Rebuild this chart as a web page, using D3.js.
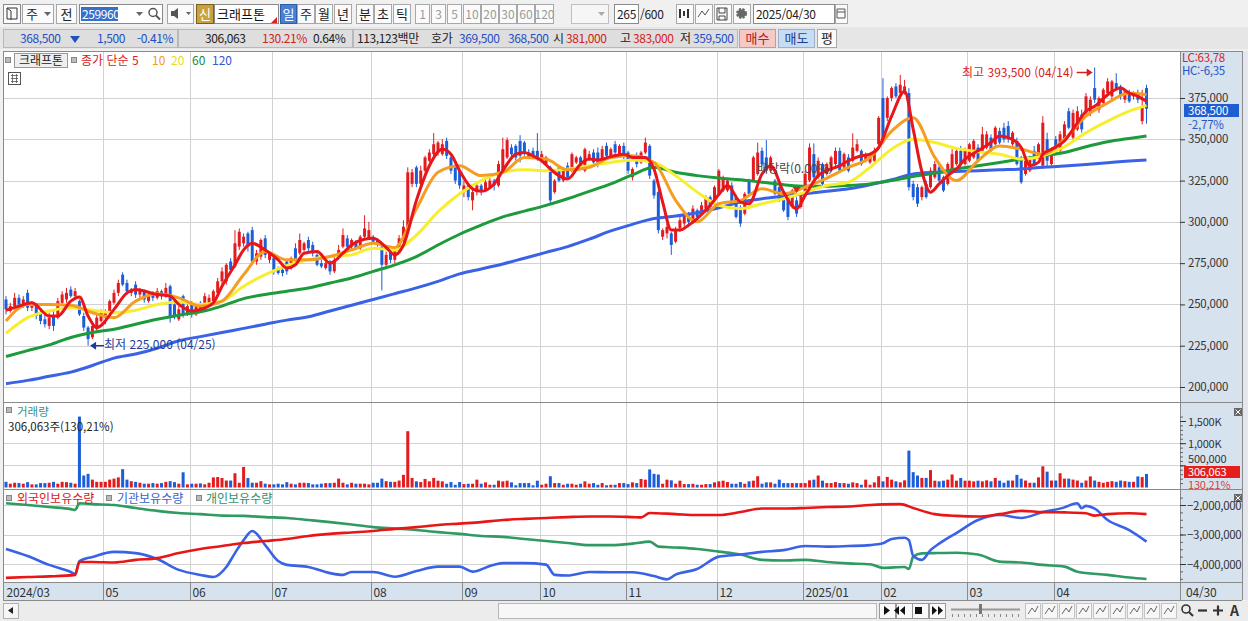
<!DOCTYPE html>
<html lang="ko">
<head>
<meta charset="utf-8">
<title>크래프톤 일봉</title>
<script src="https://cdn.jsdelivr.net/npm/d3@7"></script>
<style>
  html, body { margin: 0; padding: 0; background: #f0f0f0; overflow: hidden; }
  svg { display: block; }
  text { font-family: "Noto Sans CJK KR", "Noto Sans", sans-serif; }
</style>
</head>
<body>
<svg id="chart" width="1248" height="621"></svg>
<script>
// ---------- data : prices in thousand won, one entry per trading day ----------
const monthLabels = ["2024/03", "05", "06", "07", "08", "09", "10", "11", "12", "2025/01", "02", "03", "04"];
const monthStart  = [0, 23, 43, 62, 85, 106, 124, 144, 165, 185, 203, 223, 243];

const openK = [
  253,246,249,254,250,257,248,249,245,241,237,243,242,251,253,259,255,252,243,236,230,235,240,
  242,245,251,257,268,263,257,262,256,258,252,257,254,258,255,261,250,241,255,244,
  250,244,251,247,251,252,257,264,264,276,273,285,287,293,295,276,279,290,277,
  278,272,271,276,272,284,281,283,289,286,280,275,272,276,270,279,285,290,285,288,284,291,290,
  291,289,285,274,284,277,283,289,297,323,333,323,331,337,341,342,341,349,339,333,331,
  318,322,313,318,322,319,321,325,322,331,339,345,346,349,348,342,343,343,
  338,335,333,318,333,325,334,331,336,339,331,338,342,342,338,346,339,347,341,346,
  342,327,340,336,342,346,325,318,291,293,293,288,296,299,305,300,307,305,308,315,313,
  317,319,319,322,315,309,305,325,325,329,343,339,331,325,321,317,315,309,313,309,
  317,325,341,327,335,329,331,335,343,333,339,337,343,343,337,336,337,347,
  375,363,375,382,378,378,378,323,321,315,323,321,327,333,327,323,331,335,343,335,
  337,339,345,343,345,351,347,355,357,358,347,349,339,329,331,343,339,334,350,335,
  350,343,350,367,351,356,365,366,366,381,368,372,378,376,384,382,374,378,376,378,361,381
];
const highK = [
  255,251,257,256,255,259,252,250,247,244,245,246,254,258,260,261,260,253,245,237,239,245,247,
  247,253,259,265,269.5,265,260,264,260,259,258,258,260,259,263,262,251,249,256,251,
  252,251,252,257,256,259,266,272.5,275,278,295,296,293,294,297,283,290,292,282,
  279,273,273,277,279,287,293,288,291,288,281,277,276,277,279,286,296,292,290,289,292,304,300,
  292,290,286,282,285,285,292,301,333,332,334,334,340,344,353.8,349,350,351,340,335,332,
  325,323,320,324,323,326,327,326,337,351,351,347,347,352.5,349,344,345,353.8,
  343,340,334,326,334,332,336,342,340,340,345,343,344,345,346,348,345,349,347,348,
  343,333,342,343,351,347,326,319,296,299,294,297,303,306,306,310,308,312,316,316,322,
  332,328,326,324,316,310,318,326,340,348,345,349.5,340,326,322,319,316,320,315,318,
  331,347.5,347.5,339,336,336,340,345,345,342,341,353.6,350,344,342,341,345,364,
  387,376,382,384,389,386,381,325,323,322,325,333,337,335,328,336,344,345,346,345,
  348,350,347,357.6,355,353,358,357,360,361,355,351,340,338,340,346,348,364,354,345,
  352,355,361,369,368,370,368,378,376,393.5,376,381,387,386,390,383,380,380,379,380,380,383
];
const lowK = [
  244,245,247,248,248,246,246,241,238,236,235,234,241,249,251,254,253,243,234,225,229,233,239,
  238,243,250,255,261,256,255,254,254,251,251,252,253,253,254,239,241,240,242,243,
  242,243,245,246,249,251,256,262,262,270,272,283,285,282,274,274,277,278,275,
  268,268,267,268,271,276,280,282,282,279,273,272,271,268,269,277,284,284,283,283,283,290,289,
  287,285,258.5,272,275,275,282,288,296,321,321,322,330,336,340,340,340,338,329,323,320,
  315,313,307,316,316,318,320,319,321,330,338,339,337,336,340,338,338,337,
  336,334,311,317,324,324,326,330,335,332,330,337,334,333,337,338,338,340,340,338,
  329,325,333,335,341,326,314,293,289,290,280,287,294,297,298,299,301,304,307,307,312,
  316,318,318,310,302,297,304,316,324,328,334,330,330,316,312,306,301,308,303,308,
  316,324,326,326,322,328,330,334,330,332,330,336,342,334,336,335,336,346,
  347,361,373,375,376,377,319,313,309,313,314,320,326,324,318,322,330,334,333,334,
  336,338,336,342,344,342,346,347,348,348,346,334,323,328,330,334,338,332,333,334,
  341,342,349,356,350,355,354,364,364,372,366,370,376,374,380,374,372,372,374,372,359,359.5
];
const closeK = [
  247,249,254,250,253,248,250,243,240,238,242,237,252,256,257,255,258,244,236,229,237,242,245,
  246,252,257,263,262,258,259,256,259,253,256,254,258,255,260,242,243,247,244,249,
  245,249,246,255,254,258,264,270,274,271,287,294,291,285,276,281,289,280,281,
  270,269,269,270,278,277,289,287,284,281,274,273,275,270,277,283,292,285,289,284,291,296,295,
  288,286,274,280,277,283,290,297,330,330,323,331,339,342,347,348,347,340,331,325,322,
  322,315,318,322,319,324,325,322,335,344,349.5,341,339,340,342,339,340,339,
  341,339,313,325,325,331,327,341,339,333,344,341,336,335,344,340,344,342,346,340,
  331,332,335,342,348,328,316,295,295,297,286,295,301,304,300,308,303,310,315,309,321,
  331,327,325,311,303,299,317,317,339,342,335,331,339,317,313,307,303,319,305,317,
  329,345,327,337,323,335,339,343,331,341,331,345,347,335,341,340,343,363,
  348,375,381,376,383,382,321,315,311,321,315,331,335,325,319,335,341,343,335,343,
  347,349,337,353,353,343,357,348,350,350,354,335,324,337,339,335,347,360,337,343,
  342,353,359,357,366,367,356,376,374,374,375,380,385,385,381,376,379,373,378,374,370,368.5
];
// volume, thousand shares
const volumeK = [
  128,86,107,100,86,121,71,71,100,100,107,128,86,128,121,107,86,1600,271,307,178,128,128,
  128,178,200,228,414,178,143,128,107,86,86,100,86,100,128,143,121,86,343,71,
  86,86,93,71,107,228,236,214,157,157,321,107,464,214,107,107,143,86,71,
  71,86,71,121,86,71,107,107,100,71,71,86,100,100,107,200,107,71,107,86,86,86,71,
  107,107,200,143,128,128,157,286,1270,216,139,123,193,139,216,154,139,85,123,62,123,
  77,85,85,177,85,116,62,62,154,139,154,116,50,100,100,100,50,154,
  62,85,254,100,100,62,85,85,62,85,139,85,100,62,100,50,62,62,100,100,
  77,116,100,193,177,408,308,293,85,177,162,85,154,77,77,85,62,62,77,77,116,
  139,154,123,85,85,123,85,139,154,254,85,116,116,85,177,100,100,100,100,100,
  100,162,177,270,154,100,100,123,100,100,85,116,100,62,177,62,116,254,
  139,239,177,139,116,162,832,346,270,216,216,393,154,139,154,177,293,154,216,154,
  154,139,154,139,162,139,216,154,107,157,157,285,200,157,107,107,228,478,357,157,
  157,321,200,200,178,157,107,157,250,157,128,107,128,143,128,157,143,128,128,250,235,306
];

// moving averages (bar index -> thousand won)
const ma5Idx = [0,3,6,10,12,15,17,19,21,25,28,30,35,38,40,43,45,48,50,53,55,57,60,63,65,67,69,72,75,78,
  80,83,85,88,90,92,95,98,101,103,105,108,110,113,115,118,120,122,124,126,128,130,133,135,137,140,143,145,148,150,
  152,154,156,158,160,163,165,167,170,172,175,177,180,183,185,188,190,193,195,198,200,202,205,208,210,212,214,216,218,220,
  222,225,228,230,232,235,237,239,240,242,245,248,250,252,255,258,260,262,264];
const ma5 = [246.5,249,251,243,243,252,254.5,243,236,247,257,259,256,255,250,246,247,251,261,274,283,287,283,277,272,274,281,282,275,281,
  286,289.5,290,284.5,280,286,313,334,344,341,331,320,318.5,323,331,341,342,340,337,332,328,326,335,338,337.5,339.5,341,339,339,332,
  312,295,295,298,302,310,316.5,322,312,311,329,334,318,308,316,328,331,334,337,340,341,345,364,379,356,330.5,318,323,328,332,
  338,343,348,352,351,345,334,336,341,344,349,360,367,370,377,381,378,376,373];
const maIdx = [0,5,10,15,20,25,30,35,40,45,50,55,60,65,70,75,80,85,90,95,100,105,110,115,120,125,130,135,140,145,
  150,155,160,165,170,175,180,185,190,195,200,205,210,215,220,225,230,235,240,245,250,255,260,264];
const ma10 = [240,250,250,249.5,245,242,252,256.5,254,249,252,268,282,277,277,279,283,287,284.5,308,330,334,328,330,339,338,331.5,333,339,340,
  336,313,300,311,313,320,317,321,326.5,333,339,355,363,339,325,337,346,344,341,350,364,372,378,377];
const ma20 = [232.5,242,246,248,246.5,245,246.5,250,251.5,250,252,261,268,273.5,277,279,280,284,283,292,306,317,325,330,331.5,331,332,334,336,337.5,
  336,328,318,310,308,311,314,318,322,324,333,344,350,348,344.5,342.5,341,338,340,345.5,354,361,367,370.5];
const ma60 = [218.5,222,225.5,230,233,235,238,241,243.5,245.5,249,253.5,256,258,260,263,266,270,274,279,286,292.5,298,303,306.5,310,314,318.5,323,328.5,
  333,330,328,326.5,325.5,324,322.5,321.5,321.5,322,323,325,327.5,329.5,332,334,336,338,340,342,345.5,348.5,350.5,352];
const ma120 = [202,204,206.5,209,213,217.5,220,223.5,228,230.5,233,235.5,238,240.5,242.5,246,249.5,253,256.5,260,264,268.5,271.5,274.5,278,281.5,285,289.5,294.5,298.5,
  302,303.5,305.5,308.5,312,314,315.5,317,318.5,320,322.5,325.5,329,330,330.5,331,331.5,332,333,333.8,334.8,335.8,336.8,337.5];

// holding quantities, million shares
const foreignIdx = [0,5,10,16,17,20,25,30,35,40,45,50,55,60,65,70,75,80,85,90,95,100,105,110,115,120,125,130,135,140,
  145,147,149,155,160,165,170,175,180,185,190,195,200,203,207,210,215,220,225,230,235,240,245,250,252,255,260,264];
const foreignHold = [-4.47,-4.44,-4.42,-4.37,-3.93,-3.93,-3.95,-3.86,-3.80,-3.63,-3.49,-3.39,-3.29,-3.22,-3.15,-3.05,-2.98,-2.93,-2.88,-2.81,
  -2.75,-2.68,-2.63,-2.58,-2.51,-2.47,-2.44,-2.41,-2.39,-2.39,-2.41,-2.42,-2.27,-2.31,-2.34,-2.34,-2.24,-2.12,-2.12,-2.10,
  -2.07,-2.05,-2.00,-1.98,-1.97,-2.10,-2.31,-2.37,-2.39,-2.31,-2.20,-2.24,-2.25,-2.28,-2.36,-2.31,-2.28,-2.31];
const instIdx = [0,5,10,15,16,17,20,25,30,35,40,45,48,51,53,55,57,60,63,65,70,75,78,80,85,90,95,100,105,108,
  112,115,120,125,127,130,135,140,145,150,153,155,160,165,170,175,180,185,190,195,200,203,205,208,209,210,212,214,216,220,
  225,230,235,240,245,247,248,249,250,252,255,260,264];
const instHold = [-3.49,-3.73,-4.03,-4.27,-4.34,-3.90,-3.76,-3.59,-3.63,-3.83,-4.20,-4.37,-4.44,-4.10,-3.63,-3.19,-2.88,-3.36,-3.90,-4.03,
  -4.10,-4.31,-4.37,-4.27,-4.27,-4.43,-4.24,-4.09,-4.09,-4.26,-4.07,-3.97,-3.97,-4.02,-4.37,-4.39,-4.27,-4.28,-4.28,-4.41,
  -4.52,-4.36,-4.17,-3.75,-3.68,-3.59,-3.53,-3.39,-3.41,-3.39,-3.36,-3.30,-3.15,-3.11,-3.19,-3.73,-3.86,-3.53,-3.31,-2.95,
  -2.51,-2.34,-2.44,-2.24,-2.08,-1.97,-1.94,-2.11,-2.03,-2.12,-2.51,-2.85,-3.24];
const indivIdx = [0,5,10,15,16,17,20,25,30,35,40,45,50,55,60,65,70,75,80,85,90,95,100,105,110,115,120,125,130,135,
  140,145,149,151,155,160,165,170,175,180,185,190,195,200,203,208,209,210,212,215,220,225,230,235,240,245,248,255,260,264];
const indivHold = [-1.94,-2.00,-2.07,-2.14,-2.17,-1.94,-1.97,-2.00,-2.10,-2.20,-2.27,-2.31,-2.36,-2.37,-2.41,-2.44,-2.51,-2.58,-2.66,-2.75,
  -2.80,-2.85,-2.92,-2.98,-3.05,-3.08,-3.15,-3.22,-3.29,-3.36,-3.36,-3.31,-3.24,-3.41,-3.44,-3.49,-3.58,-3.68,-3.86,-3.88,
  -3.86,-3.93,-3.98,-4.01,-4.13,-4.10,-4.17,-3.75,-3.64,-3.63,-3.62,-3.68,-3.92,-3.95,-4.03,-4.09,-4.26,-4.37,-4.46,-4.51];

const priceTicks = [200, 225, 250, 275, 300, 325, 350, 375];
const volTicks = [500, 1000, 1500];
const holdTicks = [-2, -3, -4];

// ---------- layout ----------
const W = 1248, H = 621;
const plotL = 3, plotR = 1180, axisR = 1242;
const priceTop = 51, priceBot = 402, volBot = 489, holdBot = 582, bandBot = 600;
const UP = "#e31b1e", DOWN = "#1c5ed8", GRID = "#d2d2d2", AXISBG = "#d7e2ef";

const x   = d3.scaleLinear().domain([0, 264]).range([6, 1146.5]);
const yP  = d3.scaleLinear().domain([200, 375]).range([387, 98]);
const yV  = d3.scaleLinear().domain([0, 1500]).range([487.5, 421]);
const yH  = d3.scaleLinear().domain([-4, -2]).range([564, 505]);
const fmt = d3.format(",");

const svg = d3.select("#chart");
const defs = svg.append("defs");
function clip(id, y0, y1) {
  defs.append("clipPath").attr("id", id).append("rect")
    .attr("x", plotL).attr("y", y0).attr("width", plotR - plotL).attr("height", y1 - y0);
}
clip("cp-price", priceTop, priceBot);
clip("cp-vol", priceBot + 1, volBot);
clip("cp-hold", volBot + 1, holdBot);

function txt(g, x0, y0, s, o = {}) {
  return g.append("text").attr("x", x0).attr("y", y0).text(s)
    .attr("font-size", o.size || 12).attr("fill", o.color || "#222")
    .attr("letter-spacing", o.ls || 0)
    .attr("text-anchor", o.anchor || "start").attr("font-weight", o.weight || "normal");
}
function box(g, x0, y0, w, h, fill, stroke) {
  return g.append("rect").attr("x", x0 + 0.5).attr("y", y0 + 0.5).attr("width", w).attr("height", h)
    .attr("fill", fill || "#fbfbfb").attr("stroke", stroke || "#a8a8a8");
}
function button(g, x0, y0, w, h, label, o = {}) {
  box(g, x0, y0, w, h, o.fill, o.stroke);
  if (label) txt(g, x0 + w / 2 + 0.5, y0 + h / 2 + 5, label, { anchor: "middle", size: o.size || 13, color: o.color || "#222" });
}

// ---------- toolbar row 1 ----------
const tb = svg.append("g");
tb.append("rect").attr("width", W).attr("height", 27).attr("fill", "#f0f0f0");
box(tb, 3, 4, 17, 19, "#fbfbfb", "#8a8a8a");
tb.append("path").attr("d", "M7,8h10v11h-10z M7,8l4,3v9").attr("fill", "none").attr("stroke", "#333");
box(tb, 22, 4, 31, 19);
txt(tb, 26, 19, "주", { size: 13 });
tb.append("path").attr("d", "M44,12h7l-3.5,4z").attr("fill", "#666");
button(tb, 56, 4, 20, 19, "전");
box(tb, 79, 4, 83, 19, "#ffffff", "#8a8a8a");
tb.append("rect").attr("x", 81).attr("y", 7).attr("width", 37).attr("height", 14).attr("fill", "#3471cc");
txt(tb, 82, 19, "259960", { size: 12, color: "#fff", ls: -0.4 });
tb.append("path").attr("d", "M136,12h7l-3.5,4z").attr("fill", "#666");
tb.append("circle").attr("cx", 153).attr("cy", 12.5).attr("r", 4).attr("fill", "none").attr("stroke", "#555").attr("stroke-width", 1.5);
tb.append("path").attr("d", "M156,15.5l4,4").attr("stroke", "#555").attr("stroke-width", 1.8);
box(tb, 167, 4, 26, 19);
tb.append("path").attr("d", "M171,11h3l4,-3v11l-4,-3h-3z").attr("fill", "#555");
tb.append("path").attr("d", "M186,12h5l-2.5,3z").attr("fill", "#666");
button(tb, 196, 4, 17, 19, "신", { fill: "#c9a23f", stroke: "#7d5f19", color: "#fff" });
box(tb, 214, 4, 64, 19, "#ffffff", "#8a8a8a");
txt(tb, 217, 19, "크래프톤", { size: 13, color: "#111" });
tb.append("path").attr("d", "M277,17v6h-6z").attr("fill", "#e02020");
button(tb, 280, 4, 16, 19, "일", { fill: "#4a80d2", stroke: "#2e5ea6", color: "#fff" });
[["주", 297], ["월", 315], ["년", 334], ["분", 356], ["초", 374], ["틱", 393]].forEach(([s, bx]) =>
  button(tb, bx, 4, 17, 19, s));
[["1", 415, 14], ["3", 431, 14], ["5", 447, 14], ["10", 463, 17], ["20", 481, 17], ["30", 499, 17], ["60", 517, 17], ["120", 535, 18]]
  .forEach(([s, bx, w]) => button(tb, bx, 4, w, 19, s, { color: "#9a9a9a", size: 12 }));
box(tb, 571, 4, 37, 19, "#f6f6f6", "#c0c0c0");
tb.append("path").attr("d", "M598,12h7l-3.5,4z").attr("fill", "#aaa");
box(tb, 614, 4, 24, 19, "#ffffff", "#8a8a8a");
txt(tb, 636, 19, "265", { size: 12, anchor: "end", ls: -0.3 });
txt(tb, 640, 19, "/600", { size: 12, ls: -0.3 });
[676, 695, 714, 733].forEach(bx => box(tb, bx, 4, 17, 19));
tb.append("path").attr("d", "M680,9v9 M684,11v5 M688,9v9").attr("stroke", "#333").attr("stroke-width", 2);
tb.append("path").attr("d", "M698,17l4,-6 3,4 4,-6").attr("fill", "none").attr("stroke", "#555");
tb.append("path").attr("d", "M717,8h10v12h-10z M719,8v5h6v-5 M719,20v-4h6v4").attr("fill", "none").attr("stroke", "#444");
tb.append("circle").attr("cx", 741.5).attr("cy", 13.5).attr("r", 4).attr("fill", "#666").attr("stroke", "#666").attr("stroke-dasharray", "2,1.2").attr("stroke-width", 3);
box(tb, 753, 4, 81, 19, "#ffffff", "#8a8a8a");
txt(tb, 756, 19, "2025/04/30", { size: 12, ls: -0.3 });
box(tb, 835, 4, 12, 19);
tb.append("path").attr("d", "M837,9h8v9h-8z M837,12h8").attr("fill", "none").attr("stroke", "#555");

// ---------- quote row 2 ----------
const qr = svg.append("g");
qr.append("rect").attr("y", 27).attr("width", W).attr("height", 22).attr("fill", "#e6e6e6");
box(qr, 3, 29, 174, 18, "#dedede", "#b8b8b8");
box(qr, 178, 29, 174, 18, "#dedede", "#b8b8b8");
box(qr, 353, 29, 384, 18, "#dedede", "#b8b8b8");
const q = (x0, s, c) => txt(qr, x0, 43, s, { color: c || "#222", size: 12, ls: -0.4 });
q(20, "368,500", "#1f4fc2");
qr.append("path").attr("d", "M70,36h10l-5,7z").attr("fill", "#1f4fc2");
q(97, "1,500", "#1f4fc2");
q(137, "-0.41%", "#1f4fc2");
q(205, "306,063");
q(262, "130.21%", "#d32222");
q(313, "0.64%");
q(357, "113,123백만");
q(431, "호가");
q(459, "369,500", "#1f4fc2");
q(508, "368,500", "#1f4fc2");
q(553, "시");
q(566, "381,000", "#d32222");
q(620, "고");
q(633, "383,000", "#d32222");
q(680, "저");
q(693, "359,500", "#1f4fc2");
button(qr, 739, 29, 36, 18, "매수", { fill: "#f5c9c6", stroke: "#b9a0a0", color: "#b02020" });
button(qr, 778, 29, 36, 18, "매도", { fill: "#c7dcf5", stroke: "#9fb0c4", color: "#1d3f8a" });
button(qr, 817, 29, 19, 18, "평", { fill: "#fafafa" });

// ---------- chart frame ----------
const fr = svg.append("g");
fr.append("rect").attr("x", plotL).attr("y", priceTop).attr("width", plotR - plotL).attr("height", holdBot - priceTop).attr("fill", "#fff");
fr.append("rect").attr("x", plotR).attr("y", priceTop).attr("width", axisR - plotR).attr("height", bandBot - priceTop).attr("fill", AXISBG);
fr.append("rect").attr("x", plotL).attr("y", holdBot).attr("width", plotR - plotL).attr("height", bandBot - holdBot).attr("fill", AXISBG);
fr.append("rect").attr("x", axisR).attr("y", priceTop).attr("width", W - axisR).attr("height", bandBot - priceTop).attr("fill", "#e4e8ee");

// grid
const grid = svg.append("g").attr("stroke", GRID).attr("stroke-width", 1);
priceTicks.forEach(v => grid.append("line").attr("x1", plotL).attr("x2", plotR).attr("y1", Math.round(yP(v)) + 0.5).attr("y2", Math.round(yP(v)) + 0.5));
[500, 1000].forEach(v => grid.append("line").attr("x1", plotL).attr("x2", plotR).attr("y1", Math.round(yV(v)) + 0.5).attr("y2", Math.round(yV(v)) + 0.5));
holdTicks.forEach(v => grid.append("line").attr("x1", plotL).attr("x2", plotR).attr("y1", Math.round(yH(v)) + 0.5).attr("y2", Math.round(yH(v)) + 0.5));
monthStart.slice(1).forEach(i => {
  const gx = Math.round(x(i) - 2.16) + 0.5;
  grid.append("line").attr("x1", gx).attr("x2", gx).attr("y1", priceTop).attr("y2", holdBot);
});

// ---------- candles ----------
const bars = d3.range(closeK.length);
const col = i => closeK[i] >= openK[i] ? UP : DOWN;
const gP = svg.append("g").attr("clip-path", "url(#cp-price)");
gP.selectAll("line.wick").data(bars).join("line").attr("class", "wick")
  .attr("x1", i => x(i)).attr("x2", i => x(i))
  .attr("y1", i => yP(highK[i])).attr("y2", i => yP(lowK[i]))
  .attr("stroke", col).attr("stroke-width", 1);
gP.selectAll("rect.body").data(bars).join("rect").attr("class", "body")
  .attr("x", i => x(i) - 1.5).attr("width", 3)
  .attr("y", i => yP(Math.max(openK[i], closeK[i])))
  .attr("height", i => Math.max(1, Math.abs(yP(openK[i]) - yP(closeK[i]))))
  .attr("fill", col);

// moving averages
const maLine = (idx, vals, curve) => d3.line().x((d, k) => x(idx[k])).y(d => yP(d)).curve(curve)(vals);
[[maIdx, ma120, "#3a62e6"], [maIdx, ma60, "#1d9a3c"], [maIdx, ma20, "#f6ee2e"], [maIdx, ma10, "#f59c22"]]
  .forEach(([idx, vals, c]) => gP.append("path").attr("d", maLine(idx, vals, d3.curveMonotoneX))
    .attr("fill", "none").attr("stroke", c).attr("stroke-width", 3).attr("stroke-linejoin", "round"));
gP.append("path").attr("d", maLine(ma5Idx, ma5, d3.curveMonotoneX))
  .attr("fill", "none").attr("stroke", "#e8161b").attr("stroke-width", 3).attr("stroke-linejoin", "round");

// annotations
const hiI = d3.maxIndex(highK), loI = d3.minIndex(lowK);
txt(gP, x(hiI) - 21, 77, "최고 393,500 (04/14)", { color: "#d92020", anchor: "end" });
gP.append("path").attr("d", `M${x(hiI) - 18},72.5h11`).attr("stroke", "#d92020").attr("stroke-width", 1.5);
gP.append("path").attr("d", `M${x(hiI) - 8},68.5l6,4l-6,4z`).attr("fill", "#d92020");
txt(gP, x(loI) + 16, 349, "최저 225,000 (04/25)", { color: "#1d3b9c" });
gP.append("path").attr("d", `M${x(loI) + 4},${yP(lowK[loI])}h12`).attr("stroke", "#1d3b9c").attr("stroke-width", 1.5);
gP.append("path").attr("d", `M${x(loI) + 8},${yP(lowK[loI]) - 4}l-6,4l6,4z`).attr("fill", "#1d3b9c");
txt(gP, 757, 173, "배당락(0.00%)", { color: "#444" });
gP.append("path").attr("d", `M${x(183) - 4},187h8l-4,6z`).attr("fill", "#e02020");

// legend
box(gP, 5, 57, 5, 5, "#bbb", "#888");
button(gP, 14, 53, 53, 14, "크래프톤", { size: 12, fill: "#efefef", stroke: "#999" });
box(gP, 71, 57, 5, 5, "#bbb", "#888");
txt(gP, 81, 65, "종가 단순 5", { color: "#e01818" });
txt(gP, 152, 65, "10", { color: "#f09a1c" });
txt(gP, 171, 65, "20", { color: "#e6dc22" });
txt(gP, 192, 65, "60", { color: "#1d8a3a" });
txt(gP, 212, 65, "120", { color: "#3556d0" });
box(gP, 8, 72, 12, 12, "#fff", "#555");
gP.append("path").attr("d", "M11,75.5h7M11,78.5h7M11,81.5h7M12.5,74v9M16.5,74v9").attr("stroke", "#555").attr("stroke-width", 0.8);

// ---------- volume ----------
const gV = svg.append("g").attr("clip-path", "url(#cp-vol)");
gV.selectAll("rect").data(bars).join("rect")
  .attr("x", i => x(i) - 1.5).attr("width", 3)
  .attr("y", i => yV(volumeK[i])).attr("height", i => yV(0) - yV(volumeK[i]))
  .attr("fill", col);
box(gV, 6, 407, 5, 5, "#bbb", "#888");
txt(gV, 17, 416, "거래량", { color: "#3b8f8f", size: 11.5 });
txt(gV, 8, 430.5, "306,063주(130,21%)", { color: "#222", size: 11.5 });

// ---------- holdings ----------
const gH = svg.append("g").attr("clip-path", "url(#cp-hold)");
const hLine = (idx, vals) => d3.line().x((d, k) => x(idx[k])).y(d => yH(d)).curve(d3.curveMonotoneX)(vals);
[[indivIdx, indivHold, "#2f9a62"], [instIdx, instHold, "#3a62e6"], [foreignIdx, foreignHold, "#e81616"]]
  .forEach(([idx, vals, c]) => gH.append("path").attr("d", hLine(idx, vals))
    .attr("fill", "none").attr("stroke", c).attr("stroke-width", 2.6).attr("stroke-linejoin", "round"));
box(gH, 6, 495, 5, 5, "#bbb", "#888");
txt(gH, 17, 503, "외국인보유수량", { color: "#d81818" });
box(gH, 106, 495, 5, 5, "#bbb", "#888");
txt(gH, 117, 503, "기관보유수량", { color: "#3562d2" });
box(gH, 196, 495, 5, 5, "#bbb", "#888");
txt(gH, 206, 503, "개인보유수량", { color: "#2f8f6a" });

// ---------- panel borders ----------
const bd = svg.append("g").attr("stroke", "#8a8a8a").attr("stroke-width", 1);
[priceTop, priceBot, volBot, holdBot, bandBot].forEach(v =>
  bd.append("line").attr("x1", plotL).attr("x2", axisR).attr("y1", v + 0.5).attr("y2", v + 0.5));
bd.append("line").attr("x1", plotL + 0.5).attr("x2", plotL + 0.5).attr("y1", priceTop).attr("y2", bandBot);
bd.append("line").attr("x1", plotR + 0.5).attr("x2", plotR + 0.5).attr("y1", priceTop).attr("y2", bandBot);
bd.append("line").attr("x1", axisR + 0.5).attr("x2", axisR + 0.5).attr("y1", priceTop).attr("y2", bandBot);

// ---------- right axes ----------
const ax = svg.append("g");
txt(ax, 1182, 62, "LC:63,78", { color: "#d52424", size: 11.5, ls: -0.3 });
txt(ax, 1182, 75, "HC:-6,35", { color: "#2457c8", size: 11.5, ls: -0.3 });
priceTicks.forEach(v => {
  const ty = yP(v);
  ax.append("line").attr("x1", plotR).attr("x2", plotR + 5).attr("y1", ty + 0.5).attr("y2", ty + 0.5).attr("stroke", "#333");
  txt(ax, 1188, ty + 4, fmt(v * 1000), { size: 11.5, color: "#333", ls: -0.2 });
});
ax.append("rect").attr("x", 1184).attr("y", 104).attr("width", 55).attr("height", 13).attr("fill", "#1f5dd0");
txt(ax, 1188, 115, fmt(closeK[closeK.length - 1] * 1000), { size: 11.5, color: "#fff", ls: -0.2 });
txt(ax, 1188, 129, "-2,77%", { size: 11.5, color: "#2457c8", ls: -0.2 });

d3.range(100, 1700, 100).forEach(v => {
  if (yV(v) > priceBot + 2) ax.append("line").attr("x1", plotR).attr("x2", plotR + 3)
    .attr("y1", yV(v) + 0.5).attr("y2", yV(v) + 0.5).attr("stroke", "#666");
});
volTicks.forEach(v => {
  ax.append("line").attr("x1", plotR).attr("x2", plotR + 6).attr("y1", yV(v) + 0.5).attr("y2", yV(v) + 0.5).attr("stroke", "#333");
  txt(ax, 1188, yV(v) + (v === 500 ? -2 : 4.5), v >= 1000 ? fmt(v) + "K" : fmt(v * 1000), { size: 11, color: "#333", ls: -0.2 });
});
ax.append("rect").attr("x", 1184).attr("y", 466).attr("width", 56).attr("height", 12).attr("fill", "#e3201b");
txt(ax, 1188, 476, "306,063", { size: 11, color: "#fff", ls: -0.2 });
txt(ax, 1188, 489, "130,21%", { size: 11, color: "#d84040", ls: -0.2 });
[408, 494].forEach(by => {
  ax.append("rect").attr("x", 1234).attr("y", by).attr("width", 8).attr("height", 8).attr("fill", "#666");
  ax.append("path").attr("d", `M${1235.5},${by + 1.5}l5,5M${1240.5},${by + 1.5}l-5,5`).attr("stroke", "#fff").attr("stroke-width", 1);
});
d3.range(-4.5, -1.5, 0.25).forEach(v => {
  if (yH(v) > volBot + 2 && yH(v) < holdBot - 1) ax.append("line").attr("x1", plotR).attr("x2", plotR + 3)
    .attr("y1", yH(v) + 0.5).attr("y2", yH(v) + 0.5).attr("stroke", "#666");
});
holdTicks.forEach(v => {
  ax.append("line").attr("x1", plotR).attr("x2", plotR + 6).attr("y1", yH(v) + 0.5).attr("y2", yH(v) + 0.5).attr("stroke", "#333");
  txt(ax, 1187, yH(v) + 4.5, fmt(v * 1e6), { size: 11.5, color: "#333", ls: -0.3 });
});

// ---------- x axis band ----------
const xb = svg.append("g");
monthStart.forEach((i, k) => {
  const gx = Math.round(x(i) - 2.16) + 0.5;
  if (k > 0) xb.append("line").attr("x1", gx).attr("x2", gx).attr("y1", holdBot).attr("y2", bandBot).attr("stroke", "#8a8a8a");
  txt(xb, Math.max(gx, 4) + 2, 597, monthLabels[k], { size: 12, color: "#333", ls: -0.2 });
});
txt(xb, 1186, 597, "04/30", { size: 12, color: "#333", ls: -0.2 });

// ---------- bottom scroll bar ----------
const sb = svg.append("g");
sb.append("rect").attr("y", bandBot + 1).attr("width", W).attr("height", H - bandBot - 1).attr("fill", "#ececec");
box(sb, 3, 603, 15, 15, "#f6f6f6", "#b0b0b0");
sb.append("path").attr("d", "M13,607v7l-5,-3.5z").attr("fill", "#222");
box(sb, 498, 603, 378, 15, "#f7f7f7", "#b8b8b8");
[["M884,606v9l6,-4.5z", 879], ["M905,606v9l-5,-4.5zM899,606v9l-5,-4.5z", 896], ["M915,607h7v7h-7z", 912], ["M932,606v9l5,-4.5zM938,606v9l5,-4.5z", 929]]
  .forEach(([d, bx]) => { box(sb, bx, 603, 16, 15, "#fafafa", "#999"); sb.append("path").attr("d", d).attr("fill", "#111"); });
sb.append("line").attr("x1", 951).attr("x2", 1020).attr("y1", 609.5).attr("y2", 609.5).attr("stroke", "#999").attr("stroke-width", 2);
sb.append("rect").attr("x", 979).attr("y", 604).attr("width", 3).attr("height", 10).attr("fill", "#777");
d3.range(952, 1020, 6).forEach(tx => sb.append("line").attr("x1", tx + 0.5).attr("x2", tx + 0.5).attr("y1", 614).attr("y2", 617).attr("stroke", "#888"));
d3.range(1025, 1178, 17).forEach(bx => {
  box(sb, bx, 603, 15, 15, "#f7f7f7", "#c4c4c4");
  sb.append("path").attr("d", `M${bx + 3},${614}l4,-6 3,4 3,-6`).attr("fill", "none").attr("stroke", "#666");
});
sb.append("circle").attr("cx", 1186).attr("cy", 609).attr("r", 4).attr("fill", "none").attr("stroke", "#333").attr("stroke-width", 1.6);
sb.append("path").attr("d", "M1189,612l4,4").attr("stroke", "#333").attr("stroke-width", 2);
sb.append("path").attr("d", "M1198,610.5h9").attr("stroke", "#333").attr("stroke-width", 2.2);
sb.append("path").attr("d", "M1213,610.5h10M1218,605.5v10").attr("stroke", "#333").attr("stroke-width", 2.2);
txt(sb, 1230, 616, "A", { size: 14, color: "#333", weight: "bold" });
</script>
</body>
</html>
